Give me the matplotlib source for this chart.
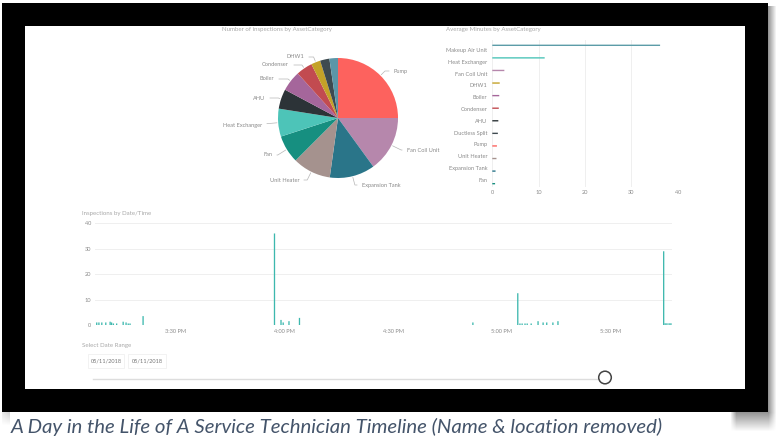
import numpy as np
import matplotlib
matplotlib.use("Agg")
import matplotlib.pyplot as plt
from matplotlib.patches import Rectangle, Circle

W, H = 777, 445
plt.rcParams['font.family'] = ['Lato', 'DejaVu Sans']

# ---- data ----
pie_categories = ["Pump", "Fan Coil Unit", "Expansion Tank", "Unit Heater", "Fan", "Heat Exchanger",
                  "AHU", "Boiler", "Condenser", "DHW1", "Ductless Split", "Makeup Air Unit"]
pie_values = [25, 15, 12.2, 10.3, 7.5, 7.5, 5.3, 5.5, 4.4, 2.5, 2.5, 2.3]
pie_colors = ["#FD625E", "#B687AC", "#2A7589", "#A5928E", "#168F80", "#4DC4B8",
              "#2C3337", "#A5669B", "#C24B50", "#C4A228", "#3E4A50", "#5B96A8"]

bar_categories = ["Makeup Air Unit", "Heat Exchanger", "Fan Coil Unit", "DHW1", "Boiler", "Condenser",
                  "AHU", "Ductless Split", "Pump", "Unit Heater", "Expansion Tank", "Fan"]
bar_values = [36.2, 11.3, 2.6, 1.6, 1.5, 1.4, 1.3, 1.2, 1.0, 0.9, 0.7, 0.6]
bar_colors = ["#5B9CA8", "#4DC4B8", "#B687AC", "#C4A228", "#A5669B", "#C24B50",
              "#2C3337", "#3E4A50", "#FD625E", "#A5928E", "#2A7589", "#168F80"]

time_minutes = [8.1, 8.7, 9.5, 10.6, 11.8, 12.2, 12.7, 13.6, 15.4, 16.2, 16.8, 17.3, 20.9,
                57.2, 59.0, 59.6, 61.2, 64.1, 112.0, 124.4, 125.0, 125.6, 126.4, 127.0, 128.1,
                130.0, 131.4, 132.4, 134.1, 135.5, 164.7, 165.1, 165.6, 166.2, 166.7]
time_counts = [1, 1, 1, 1, 1.3, 1, 0.6, 0.6, 1.3, 1, 0.6, 0.6, 3.5,
               36, 2, 1, 1.5, 2.8, 1, 12.5, 0.6, 0.6, 0.6, 0.6, 0.6,
               1.5, 1, 1, 1, 1.5, 29, 0.7, 0.7, 0.7, 0.7]
time_ticks = [30, 60, 90, 120, 150]
time_tick_labels = ["3:30 PM", "4:00 PM", "4:30 PM", "5:00 PM", "5:30 PM"]

pie_label_pos = {"Pump": (394, 71, 'left'), "Fan Coil Unit": (407, 150, 'left'),
                 "Expansion Tank": (362, 185, 'left'), "Unit Heater": (299, 180, 'right'),
                 "Fan": (272, 155, 'right'), "Heat Exchanger": (262, 125, 'right'),
                 "AHU": (265, 98, 'right'), "Boiler": (274, 79, 'right'),
                 "Condenser": (289, 65, 'right'), "DHW1": (304, 57, 'right')}

TXT = "#8a8a8a"
TITLE = "#a8a8a8"
GRID = "#efefef"
FS_TITLE = 4.4
FS = 4.1


def px_axes(fig, left, top, right, bottom):
    return fig.add_axes([left / W, 1 - bottom / H, (right - left) / W, (bottom - top) / H])


fig = plt.figure(figsize=(W / 100, H / 100), dpi=100, facecolor="white")

# ---- frame ----
bg = fig.add_axes([0, 0, 1, 1], zorder=0)
bg.axis("off")

# right-hand drop shadow
img = np.zeros((1, 9, 4))
img[..., 3] = np.linspace(0.42, 0.0, 9)[None, :]
bg.imshow(img, extent=(768, 777, 412, 6), aspect="auto", interpolation="bilinear", zorder=1)
# bottom shadow
yy = np.linspace(0.42, 0.0, 20)[:, None]
xf = np.concatenate([np.linspace(0.2, 1, 6), np.ones(31), np.linspace(1, 0, 9)])[None, :]
img2 = np.zeros((20, 46, 4))
img2[..., 3] = yy * xf
bg.imshow(img2, extent=(731, 777, 432, 412), aspect="auto", interpolation="bilinear", zorder=1)
# left small shadow
img3 = np.zeros((14, 8, 4))
img3[..., 3] = np.linspace(0.18, 0, 14)[:, None] * np.linspace(0.5, 1, 8)[None, :]
bg.imshow(img3, extent=(2, 10, 426, 412), aspect="auto", interpolation="bilinear", zorder=1)

bg.add_patch(Rectangle((2, 3), 766, 409, fc="black", ec="none", zorder=2))
bg.add_patch(Rectangle((25, 26), 720, 363, fc="white", ec="none", zorder=3))
bg.set_xlim(0, W)
bg.set_ylim(H, 0)

# titles
for x, y, s in [(222, 30, "Number of inspections by AssetCategory"),
                (446, 30, "Average Minutes by AssetCategory"),
                (82, 213, "Inspections by Date/Time"),
                (82, 345, "Select Date Range")]:
    bg.text(x, y, s, fontsize=FS_TITLE, color=TITLE, va="center", ha="left", zorder=5)

# caption
bg.text(11, 427, "A Day in the Life of A Service Technician Timeline (Name & location removed)",
        style="italic", fontsize=14.7, color="#44546A", va="center", ha="left", zorder=5)

# date slicer
for x0, x1, s in [(88, 124, "05/11/2018"), (128, 166, "05/11/2018")]:
    bg.add_patch(Rectangle((x0, 354), x1 - x0, 14, fc="white", ec="#f0f0f0", lw=0.6, zorder=4))
    bg.text((x0 + x1) / 2, 361, s, fontsize=FS, color="#777777", ha="center", va="center", zorder=5)
bg.plot([93, 599], [378.5, 378.5], color="#dddddd", lw=1, zorder=4)
bg.add_patch(Circle((605, 377.5), 6.3, fc="white", ec="#444444", lw=1.1, zorder=5))

# ---- pie ----
ax_pie = px_axes(fig, 278, 58, 398, 178)
ax_pie.set_zorder(2)
wedges, _ = ax_pie.pie(pie_values, colors=pie_colors, startangle=90, counterclock=False, radius=1.0)
ax_pie.set_xlim(-1, 1)
ax_pie.set_ylim(-1, 1)
ax_pie.set_aspect("auto")

# transparent overlay for the pie labels and their leader lines
over = fig.add_axes([0, 0, 1, 1], zorder=3)
over.axis("off")
over.set_xlim(0, W)
over.set_ylim(H, 0)
for w, name in zip(wedges, pie_categories):
    if name not in pie_label_pos:
        continue
    a = np.deg2rad((w.theta1 + w.theta2) / 2)
    px, py, ha = pie_label_pos[name]
    over.annotate(name, xy=(1.02 * np.cos(a), 1.02 * np.sin(a)), xycoords=ax_pie.transData,
                  xytext=(px, py), textcoords=over.transData, fontsize=FS, color=TXT,
                  ha=ha, va="center", annotation_clip=False,
                  arrowprops=dict(arrowstyle="-", color="#b5b5b5", lw=0.5, shrinkA=1.5, shrinkB=0,
                                  connectionstyle="angle,angleA=0,angleB=%d,rad=0" % (np.rad2deg(a))))

# ---- horizontal bars ----
ax_bar = px_axes(fig, 492.3, 40, 677.7, 187)
ax_bar.set_zorder(2)
ypos = np.arange(len(bar_categories))
bars_h = ax_bar.barh(ypos, bar_values, height=0.11, color=bar_colors, linewidth=0, zorder=3)
for b in bars_h:
    b.set_snap(False)
ax_bar.set_xlim(0, 40)
# y scale: one category = 12.58 px, first bar at y = 45.3 px
ax_bar.set_ylim((187 - 45.3) / 12.58, -(45.3 - 40) / 12.58)
ax_bar.set_yticks(0.37 + 0.938 * ypos)
ax_bar.set_yticklabels(bar_categories)
ax_bar.set_xticks([0, 10, 20, 30, 40])
ax_bar.tick_params(axis="both", length=0, labelsize=FS, labelcolor=TXT)
ax_bar.tick_params(axis="y", pad=3.5)
ax_bar.tick_params(axis="x", pad=2.5)
ax_bar.grid(axis="x", color=GRID, lw=0.7, zorder=0)
ax_bar.patch.set_alpha(0)
for s in ax_bar.spines.values():
    s.set_visible(False)

# ---- timeline ----
ax_time = px_axes(fig, 95, 223.3, 672, 325)
ax_time.set_zorder(2)
bars_v = ax_time.bar(time_minutes, time_counts, width=0.36, color="#3DB8AE", linewidth=0, zorder=3)
for b in bars_v:
    b.set_snap(False)
ax_time.set_xlim(7.62, 167.0)
ax_time.set_ylim(0, 40)
ax_time.set_yticks([0, 10, 20, 30, 40])
ax_time.set_xticks(time_ticks)
ax_time.set_xticklabels(time_tick_labels)
ax_time.tick_params(axis="both", length=0, labelsize=FS, labelcolor=TXT)
ax_time.tick_params(axis="y", pad=3)
ax_time.tick_params(axis="x", pad=3)
ax_time.grid(axis="y", color=GRID, lw=0.7, zorder=0)
ax_time.patch.set_alpha(0)
for s in ax_time.spines.values():
    s.set_visible(False)

fig.savefig("out.png", dpi=100, facecolor="white")
